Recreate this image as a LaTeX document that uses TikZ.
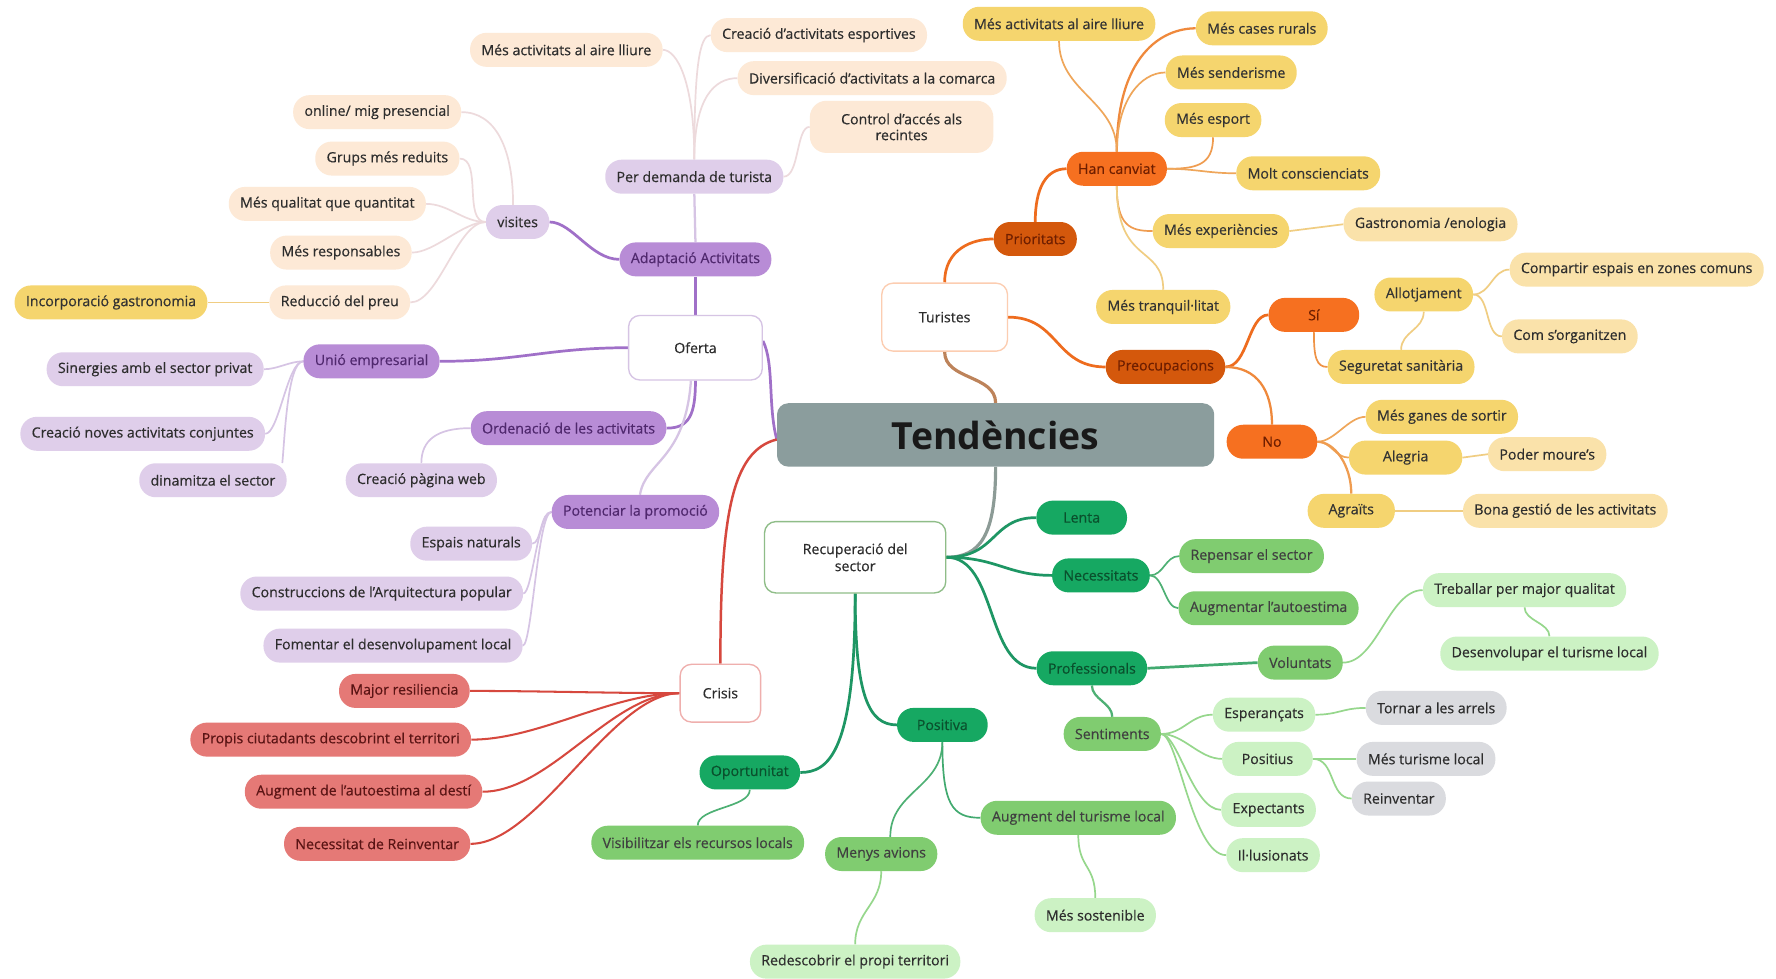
\documentclass[tikz,border=0pt]{standalone}
\usepackage{fontspec}
\setmainfont{Open Sans}
\newfontfamily\semib{Open Sans}[FakeBold=0.45, Ligatures=TeX]
\pgfdeclarelayer{bg}
\pgfsetlayers{bg,main}
% palette
\definecolor{cHub}{RGB}{139,157,157}
\definecolor{cPurM}{RGB}{184,140,214}
\definecolor{cPurL}{RGB}{223,206,234}
\definecolor{cPurT}{RGB}{80,40,110}
\definecolor{cPeach}{RGB}{253,233,214}
\definecolor{cGold}{RGB}{245,213,110}
\definecolor{cGoldL}{RGB}{250,226,170}
\definecolor{cOra}{RGB}{246,112,32}
\definecolor{cOraD}{RGB}{212,88,12}
\definecolor{cOraT}{RGB}{110,30,0}
\definecolor{cGrnD}{RGB}{22,168,98}
\definecolor{cGrnDT}{RGB}{10,80,45}
\definecolor{cGrnM}{RGB}{128,204,112}
\definecolor{cGrnL}{RGB}{204,242,196}
\definecolor{cGrey}{RGB}{218,219,223}
\definecolor{cRed}{RGB}{229,121,118}
\definecolor{cRedT}{RGB}{90,20,20}
\definecolor{cTxt}{RGB}{45,45,45}
% connector colours
\definecolor{kPur}{RGB}{160,112,200}
\definecolor{kPurL}{RGB}{214,196,228}
\definecolor{kOra}{RGB}{238,108,30}
\definecolor{kGoldL}{RGB}{240,205,130}
\definecolor{kGrn}{RGB}{30,150,100}
\definecolor{kGrnL}{RGB}{150,215,140}
\definecolor{kRed}{RGB}{214,72,62}
\definecolor{kHub}{RGB}{140,155,150}
\begin{document}
\begin{tikzpicture}[x=1pt,y=-1pt,
  box/.style={rectangle, rounded corners=14.5pt, minimum height=30pt, inner xsep=10pt, inner ysep=2pt,
    font=\semib\fontsize{12.5}{14}\selectfont, text=cTxt, align=center},
  hub/.style={rectangle, rounded corners=10pt, fill=cHub, minimum width=386pt, minimum height=56pt,
    font=\fontsize{33}{36}\bfseries\selectfont, text=black!90},
  topic/.style={rectangle, rounded corners=10pt, fill=white, line width=1.2pt, align=center,
    font=\semib\fontsize{12.5}{15}\selectfont, text=cTxt},
  nPurM/.style={box, fill=cPurM, text=cPurT},
  nPurL/.style={box, fill=cPurL},
  nPeach/.style={box, fill=cPeach},
  nGold/.style={box, fill=cGold, text=black!80},
  nGoldL/.style={box, fill=cGoldL},
  nOra/.style={box, fill=cOra, text=cOraT},
  nOraD/.style={box, fill=cOraD, text=cOraT},
  nGrnD/.style={box, fill=cGrnD, text=cGrnDT},
  nGrnM/.style={box, fill=cGrnM, text=black!75},
  nGrnL/.style={box, fill=cGrnL},
  nGrey/.style={box, fill=cGrey},
  nRed/.style={box, fill=cRed, text=cRedT},
  lHub/.style={draw=kHub, line width=2.8pt},
  lPur/.style={draw=kPur, line width=2.4pt},
  lPurL/.style={draw=kPurL, line width=1.5pt},
  lOra/.style={draw=kOra, line width=2.4pt},
  lGoldL/.style={draw=kGoldL, line width=1.5pt},
  lGrn/.style={draw=kGrn, line width=2.4pt},
  lGrnL/.style={draw=kGrnL, line width=1.5pt},
  lRed/.style={draw=kRed, line width=1.8pt},
]
\useasboundingbox (0,0) rectangle (1568,864);
\begin{pgfonlayer}{bg}
\fill[white] (0,0) rectangle (1568,864);
\end{pgfonlayer}

% ---------- hub and topics ----------
\node[hub] (tend) at (879,384) {Tendències};
\node[topic, draw=kPurL, minimum width=118pt, minimum height=57pt] (oferta) at (614,307) {Oferta};
\node[topic, draw=cOra!35, minimum width=111pt, minimum height=60pt] (turistes) at (834,280) {Turistes};
\node[topic, draw=kGrnL!70!gray, minimum width=160pt, minimum height=63pt] (recup) at (755,492) {Recuperació del\\sector};
\node[topic, draw=cRed!60, minimum width=71pt, minimum height=51pt] (crisis) at (636,612) {Crisis};

% ---------- Oferta ----------
\node[nPurM] (adapt) at (614,229) {Adaptació Activitats};
\node[nPurL] (demanda) at (613,156) {Per demanda de turista};
\node[nPurL] (visites) at (457,196) {visites};
\node[nPurM] (unio) at (328,319) {Unió empresarial};
\node[nPurM] (orden) at (502,378) {Ordenació de les activitats};
\node[nPurM] (potenciar) at (561,452) {Potenciar la promoció};
\node[nPurL] (sinergies) at (137,326) {Sinergies amb el sector privat};
\node[nPurL] (conjuntes) at (126,383) {Creació noves activitats conjuntes};
\node[nPurL] (dinamitza) at (188,424) {dinamitza el sector};
\node[nPurL] (web) at (372,424) {Creació pàgina web};
\node[nPurL] (espais) at (416,480) {Espais naturals};
\node[nPurL] (construccions) at (337,524) {Construccions de l'Arquitectura popular};
\node[nPurL] (fomentar) at (347,570) {Fomentar el desenvolupament local};
\node[nPeach] (aireA) at (500,44) {Més activitats al aire lliure};
\node[nPeach] (esportives) at (723,31) {Creació d'activitats esportives};
\node[nPeach] (diversif) at (770,69) {Diversificació d'activitats a la comarca};
\node[nPeach, minimum width=162pt, minimum height=46pt] (control) at (796,112) {Control d'accés als\\recintes};
\node[nPeach] (online) at (333,99) {online/ mig presencial};
\node[nPeach] (grups) at (342,140) {Grups més reduits};
\node[nPeach] (qualitat) at (289,180) {Més qualitat que quantitat};
\node[nPeach] (responsables) at (301,223) {Més responsables};
\node[nPeach] (preu) at (300,267) {Reducció del preu};
\node[nGold] (gastro) at (98,267) {Incorporació gastronomia};

% ---------- Turistes ----------
\node[nOraD] (prioritats) at (914,211) {Prioritats};
\node[nOra] (canviat) at (986,149) {Han canviat};
\node[nOraD] (preocup) at (1029,324) {Preocupacions};
\node[nOra, minimum width=80pt] (si) at (1160,278) {Sí};
\node[nOra, minimum width=80pt] (no) at (1123,390) {No};
\node[nGold] (aireB) at (935,21) {Més activitats al aire lliure};
\node[nGold] (rurals) at (1114,25) {Més cases rurals};
\node[nGold] (senderisme) at (1087,64) {Més senderisme};
\node[nGold] (esport) at (1071,106) {Més esport};
\node[nGold] (conscienciats) at (1155,153) {Molt conscienciats};
\node[nGold] (experiencies) at (1078,204) {Més experiències};
\node[nGold] (tranquil) at (1027,271) {Més tranquil·litat};
\node[nGold] (allotjament) at (1257,260) {Allotjament};
\node[nGold] (seguretat) at (1237,324) {Seguretat sanitària};
\node[nGold] (ganes) at (1273,368) {Més ganes de sortir};
\node[nGold, minimum width=100pt] (alegria) at (1241,404) {Alegria};
\node[nGold, minimum width=77pt] (agraits) at (1193,451) {Agraïts};
\node[nGoldL] (enologia) at (1263,198) {Gastronomia /enologia};
\node[nGoldL] (compartir) at (1445,238) {Compartir espais en zones comuns};
\node[nGoldL] (organitzen) at (1386,297) {Com s'organitzen};
\node[nGoldL] (moure) at (1366,401) {Poder moure's};
\node[nGoldL] (bona) at (1382,451) {Bona gestió de les activitats};

% ---------- Recuperació del sector ----------
\node[nGrnD, minimum width=80pt] (lenta) at (955,457) {Lenta};
\node[nGrnD] (necessitats) at (972,508) {Necessitats};
\node[nGrnD] (professionals) at (964,590) {Professionals};
\node[nGrnD, minimum width=80pt] (positiva) at (832,640) {Positiva};
\node[nGrnD] (oportunitat) at (662,682) {Oportunitat};
\node[nGrnM] (repensar) at (1105,491) {Repensar el sector};
\node[nGrnM] (autoestima) at (1120,537) {Augmentar l'autoestima};
\node[nGrnM] (voluntats) at (1148,585) {Voluntats};
\node[nGrnM] (sentiments) at (982,648) {Sentiments};
\node[nGrnM] (visibilitzar) at (616,744) {Visibilitzar els recursos locals};
\node[nGrnM] (menys) at (778,754) {Menys avions};
\node[nGrnM] (augment) at (952,722) {Augment del turisme local};
\node[nGrnL] (treballar) at (1346,521) {Treballar per major qualitat};
\node[nGrnL] (desenvolupar) at (1368,577) {Desenvolupar el turisme local};
\node[nGrnL] (esperancats) at (1116,631) {Esperançats};
\node[nGrnL, minimum width=80pt] (positius) at (1119,670) {Positius};
\node[nGrnL] (expectants) at (1120,715) {Expectants};
\node[nGrnL] (illusionats) at (1124,755) {Il·lusionats};
\node[nGrnL] (sostenible) at (967,808) {Més sostenible};
\node[nGrnL] (redescobrir) at (755,849) {Redescobrir el propi territori};
\node[nGrey] (arrels) at (1268,625) {Tornar a les arrels};
\node[nGrey] (turismelocal) at (1259,670) {Més turisme local};
\node[nGrey] (reinventar) at (1235,705) {Reinventar};

% ---------- Crisis ----------
\node[nRed] (resiliencia) at (357,610) {Major resiliencia};
\node[nRed] (ciutadants) at (292,653) {Propis ciutadants descobrint el territori};
\node[nRed] (desti) at (321,699) {Augment de l'autoestima al destí};
\node[nRed] (reinventarB) at (333,745) {Necessitat de Reinventar};

% ---------- connectors ----------
\begin{pgfonlayer}{bg}
% hub
\draw[lPur] ([yshift=6pt]oferta.east) .. controls +(10,20) and +(-8,-30) .. ([yshift=-4pt]tend.west);
\draw[lHub, draw=kOra!50!kHub] (turistes.south) .. controls +(0,25) and +(0,-25) .. (tend.north);
\draw[lHub] (tend.south) .. controls +(0,60) and +(30,0) .. (recup.east);
\draw[lRed, line width=2.2pt] ([yshift=-4pt]tend.west) .. controls +(-40,10) and +(0,-130) .. (crisis.north);

% Oferta
\draw[lPur] (oferta.north) -- (adapt.south);
\draw[lPurL, line width=2pt] (adapt.north) -- (demanda.south);
\draw[lPur] (adapt.west) .. controls +(-25,0) and +(20,0) .. (visites.east);
\draw[lGoldL, draw=cPeach!60!kPurL] (demanda.north) .. controls +(0,-70) and +(12,0) .. (aireA.east);
\draw[lGoldL, draw=cPeach!60!kPurL] (demanda.north) .. controls +(0,-80) and +(-10,0) .. (esportives.west);
\draw[lGoldL, draw=cPeach!60!kPurL] (demanda.north) .. controls +(0,-55) and +(-20,0) .. (diversif.west);
\draw[lGoldL, draw=cPeach!60!kPurL] (demanda.east) .. controls +(14,0) and +(-12,0) .. (control.west);
\draw[lGoldL, draw=cPeach!60!kPurL] ([xshift=-4pt]visites.north) .. controls +(0,-50) and +(30,0) .. (online.east);
\draw[lGoldL, draw=cPeach!60!kPurL] (visites.west) .. controls +(-20,0) and +(20,0) .. (grups.east);
\draw[lGoldL, draw=cPeach!60!kPurL] (visites.west) .. controls +(-20,0) and +(20,0) .. (qualitat.east);
\draw[lGoldL, draw=cPeach!60!kPurL] (visites.west) .. controls +(-20,0) and +(20,0) .. (responsables.east);
\draw[lGoldL, draw=cPeach!60!kPurL] (visites.west) .. controls +(-25,0) and +(25,0) .. (preu.east);
\draw[lGoldL] (preu.west) -- (gastro.east);
\draw[lPur] (oferta.west) .. controls +(-70,0) and +(70,0) .. (unio.east);
\draw[lPurL] (unio.west) .. controls +(-12,0) and +(12,0) .. (sinergies.east);
\draw[lPurL] (unio.west) .. controls +(-14,0) and +(12,0) .. (conjuntes.east);
\draw[lPurL] (unio.west) .. controls +(-14,0) and +(2,-20) .. ([xshift=-4pt]dinamitza.north east);
\draw[lPur] (oferta.south) .. controls +(0,30) and +(20,0) .. (orden.east);
\draw[lPurL, line width=2pt] ([xshift=-4pt]oferta.south) .. controls +(-5,70) and +(5,-30) .. ([xshift=4pt]potenciar.north);
\draw[lPurL] (orden.west) .. controls +(-30,0) and +(0,-20) .. (web.north);
\draw[lPurL] (potenciar.west) .. controls +(-10,0) and +(8,0) .. (espais.east);
\draw[lPurL] (potenciar.west) .. controls +(-12,0) and +(8,0) .. (construccions.east);
\draw[lPurL] (potenciar.west) .. controls +(-12,0) and +(8,0) .. (fomentar.east);

% Turistes
\draw[lOra] (turistes.north) .. controls +(0,-30) and +(-18,0) .. (prioritats.west);
\draw[lOra] (prioritats.north) .. controls +(0,-30) and +(-18,0) .. (canviat.west);
\draw[lGoldL, draw=kOra!40!kGoldL] (canviat.north) .. controls +(0,-45) and +(0,45) .. (aireB.south);
\draw[lGoldL, draw=kOra!70!kGoldL, line width=2pt] (canviat.north) .. controls +(0,-85) and +(-30,0) .. (rurals.west);
\draw[lGoldL, draw=kOra!40!kGoldL] (canviat.north) .. controls +(0,-45) and +(-22,0) .. (senderisme.west);
\draw[lGoldL, draw=kOra!50!kGoldL] (canviat.east) .. controls +(25,0) and +(0,25) .. (esport.south);
\draw[lGoldL, draw=kOra!40!kGoldL] (canviat.east) .. controls +(25,0) and +(-25,0) .. (conscienciats.west);
\draw[lGoldL, draw=kOra!50!kGoldL] (canviat.south) .. controls +(0,35) and +(-20,0) .. (experiencies.west);
\draw[lGoldL] (canviat.south) .. controls +(0,70) and +(0,-40) .. (tranquil.north);
\draw[lGoldL] (experiencies.east) -- (enologia.west);
\draw[lOra] (turistes.east) .. controls +(45,0) and +(-45,0) .. (preocup.west);
\draw[lOra] (preocup.east) .. controls +(20,0) and +(-18,0) .. (si.west);
\draw[lOra, line width=2pt, draw=kOra!70!kGoldL] (preocup.east) .. controls +(28,0) and +(0,-30) .. (no.north);
\draw[lGoldL, draw=kOra!60!kGoldL] (si.south) .. controls +(0,22) and +(-10,0) .. (seguretat.west);
\draw[lGoldL] (seguretat.north) .. controls +(0,-16) and +(0,16) .. (allotjament.south);
\draw[lGoldL] (allotjament.east) .. controls +(15,0) and +(-15,0) .. (compartir.west);
\draw[lGoldL] (allotjament.east) .. controls +(15,0) and +(-15,0) .. (organitzen.west);
\draw[lGoldL, draw=kOra!40!kGoldL] (no.east) .. controls +(15,0) and +(-15,0) .. (ganes.west);
\draw[lGoldL, draw=kOra!40!kGoldL] (no.east) .. controls +(12,0) and +(-12,0) .. (alegria.west);
\draw[lGoldL, draw=kOra!50!kGoldL, line width=2pt] (no.east) .. controls +(15,0) and +(0,-25) .. (agraits.north);
\draw[lGoldL] (alegria.east) -- (moure.west);
\draw[lGoldL] (agraits.east) -- (bona.west);

% Recuperació del sector
\draw[lGrn] (recup.east) .. controls +(45,0) and +(-40,0) .. (lenta.west);
\draw[lGrn] (recup.east) .. controls +(45,0) and +(-40,0) .. (necessitats.west);
\draw[lGrn] (recup.east) .. controls +(45,0) and +(-45,0) .. (professionals.west);
\draw[lGrn] (recup.south) .. controls +(0,90) and +(-25,0) .. (positiva.west);
\draw[lGrn] (recup.south) .. controls +(0,140) and +(25,0) .. (oportunitat.east);
\draw[lGrnL, draw=kGrn!60!kGrnL] (necessitats.east) .. controls +(12,0) and +(-12,0) .. (repensar.west);
\draw[lGrnL, draw=kGrn!60!kGrnL] (necessitats.east) .. controls +(12,0) and +(-12,0) .. (autoestima.west);
\draw[lGrn, draw=kGrn!70!kGrnL] (professionals.east) -- (voluntats.west);
\draw[lGrnL, draw=kGrn!60!kGrnL, line width=2pt] (professionals.south) .. controls +(0,12) and +(0,-12) .. (sentiments.north);
\draw[lGrnL] (voluntats.east) .. controls +(30,0) and +(-30,0) .. (treballar.west);
\draw[lGrnL] (treballar.south) .. controls +(0,12) and +(0,-12) .. (desenvolupar.north);
\draw[lGrnL] (sentiments.east) .. controls +(20,0) and +(-20,0) .. (esperancats.west);
\draw[lGrnL] (sentiments.east) .. controls +(20,0) and +(-20,0) .. (positius.west);
\draw[lGrnL] (sentiments.east) .. controls +(15,0) and +(-25,0) .. (expectants.west);
\draw[lGrnL] (sentiments.east) .. controls +(15,0) and +(-30,0) .. (illusionats.west);
\draw[lGrnL] (esperancats.east) .. controls +(20,0) and +(-20,0) .. (arrels.west);
\draw[lGrnL] (positius.east) -- (turismelocal.west);
\draw[lGrnL] (positius.east) .. controls +(20,0) and +(-20,0) .. (reinventar.west);
\draw[lGrnL, draw=kGrn!60!kGrnL] (positiva.south) .. controls +(0,40) and +(0,-40) .. ([xshift=8pt]menys.north);
\draw[lGrnL, draw=kGrn!70!kGrnL] (positiva.south) .. controls +(0,55) and +(-25,0) .. (augment.west);
\draw[lGrnL] (augment.south) .. controls +(0,30) and +(0,-30) .. (sostenible.north);
\draw[lGrnL] (menys.south) .. controls +(0,30) and +(0,-30) .. (redescobrir.north);
\draw[lGrnL, draw=kGrn!60!kGrnL] (oportunitat.south) .. controls +(0,16) and +(0,-16) .. (visibilitzar.north);

% Crisis
\draw[lRed] (crisis.west) .. controls +(-60,0) and +(60,0) .. (resiliencia.east);
\draw[lRed] (crisis.west) .. controls +(-60,0) and +(60,0) .. (ciutadants.east);
\draw[lRed] (crisis.west) .. controls +(-60,0) and +(60,0) .. (desti.east);
\draw[lRed] (crisis.west) .. controls +(-60,0) and +(60,0) .. (reinventarB.east);
\end{pgfonlayer}
\end{tikzpicture}
\end{document}
